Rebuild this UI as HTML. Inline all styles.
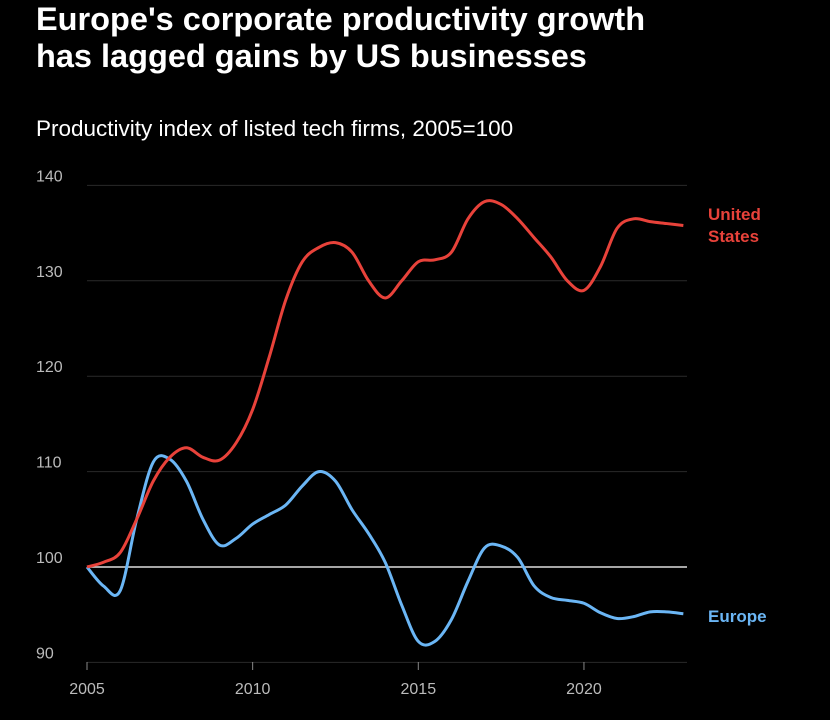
<!DOCTYPE html>
<html><head><meta charset="utf-8"><style>
body{margin:0;background:#000;width:830px;height:715px;overflow:hidden;font-family:"Liberation Sans",sans-serif}
</style></head><body>
<svg width="830" height="715">
<text x="36" y="30" fill="#fff" font-size="32.5" font-weight="bold">Europe's corporate productivity growth</text>
<text x="36" y="67" fill="#fff" font-size="32.5" font-weight="bold">has lagged gains by US businesses</text>
<text x="36" y="136" fill="#fff" font-size="22.5">Productivity index of listed tech firms, 2005=100</text>
<g id="grid"></g><g id="lines"></g>
<text x="708" y="220" fill="#e8423a" font-size="17" font-weight="bold">United</text>
<text x="708" y="242" fill="#e8423a" font-size="17" font-weight="bold">States</text>
<text x="708" y="622" fill="#6bb6f5" font-size="17" font-weight="bold">Europe</text>
</svg>
<script>
const years=[2005,2005.5,2006,2006.5,2007,2007.5,2008,2008.5,2009,2009.5,2010,2010.5,2011,2011.5,2012,2012.5,2013,2013.5,2014,2014.5,2015,2015.5,2016,2016.5,2017,2017.5,2018,2018.5,2019,2019.5,2020,2020.5,2021,2021.5,2022,2022.5,2023];
const usValues=[100,100.5,101.5,105,109,111.5,112.5,111.5,111.2,113,116.5,122,128,132,133.5,134,133,130,128.2,130,132,132.2,133,136.5,138.3,138,136.5,134.5,132.5,130,129,131.5,135.5,136.5,136.2,136,135.8];
const europeValues=[100,98,97.5,105,111,111.3,109,105,102.3,103,104.5,105.5,106.5,108.5,110,109,106,103.5,100.5,96,92.2,92.2,94.5,98.5,102,102.2,101,98,96.8,96.5,96.2,95.2,94.6,94.8,95.3,95.3,95.1];
const yTicks=[90,100,110,120,130,140];
const xTicks=[2005,2010,2015,2020];
const X=v=>87+(v-2005)*33.13, Y=v=>567-(v-100)*9.54;
const ns='http://www.w3.org/2000/svg';
const grid=document.getElementById('grid'), lines=document.getElementById('lines');
function mk(t,a,p){const e=document.createElementNS(ns,t);for(const k in a)e.setAttribute(k,a[k]);p.appendChild(e);return e;}
yTicks.forEach(v=>{
 const l=mk('line',{x1:87,x2:687,y1:Y(v),y2:Y(v),stroke:v==100?'#ddd':'#2a2a2a','stroke-width':v==100?1.5:1},grid);
 
 
 const t=mk('text',{x:36,y:Y(v)-4,fill:'#bbb','font-size':16},grid);t.textContent=v;
 
 
});
xTicks.forEach(v=>{
 const l=mk('line',{x1:X(v),x2:X(v),y1:662,y2:670,stroke:'#888'},grid);
 
 
 const t=mk('text',{x:X(v),y:694,fill:'#bbb','font-size':16,'text-anchor':'middle'},grid);t.textContent=v;
 
 
});
function path(vals){
 const p=years.map((y,i)=>[X(y),Y(vals[i])]);let d='M'+p[0];
 for(let i=0;i<p.length-1;i++){const a=p[i-1]||p[i],b=p[i],c=p[i+1],e=p[i+2]||c;
  d+=`C${b[0]+(c[0]-a[0])/6},${b[1]+(c[1]-a[1])/6} ${c[0]-(e[0]-b[0])/6},${c[1]-(e[1]-b[1])/6} ${c[0]},${c[1]}`;}
 return d;}
const eu=mk('path',{d:path(europeValues),fill:'none',stroke:'#6bb6f5','stroke-width':3},lines);


const us=mk('path',{d:path(usValues),fill:'none',stroke:'#e8423a','stroke-width':3},lines);


</script>
</body></html>
